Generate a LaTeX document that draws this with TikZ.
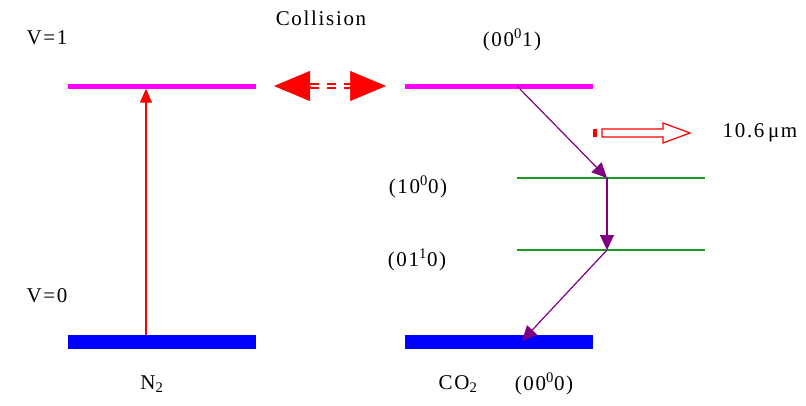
\documentclass[tikz,border=0pt]{standalone}
\usepackage{fontspec}
\setmainfont[LetterSpace=8]{Liberation Serif}
\usetikzlibrary{arrows.meta,positioning,calc}
\definecolor{lvlmag}{RGB}{255,0,255}
\definecolor{lvlblue}{RGB}{0,0,255}
\definecolor{lvlgreen}{RGB}{30,150,30}
\definecolor{decpurple}{RGB}{128,0,128}
\tikzset{
  lvl/.style  = {inner sep=0pt, minimum width=188pt},
  up/.style   = {lvl, fill=lvlmag, minimum height=5pt},
  gnd/.style  = {lvl, fill=lvlblue, minimum height=14pt},
  mid/.style  = {lvl, fill=lvlgreen, minimum height=1.6pt},
  lbl/.style  = {font=\fontsize{21}{24}\selectfont, inner sep=0pt},
  pump/.style = {-{Triangle[length=14pt,width=12pt]}, red, line width=1.1pt},
  dec/.style  = {-{Triangle[length=15pt,width=14pt]}, decpurple, line width=1.2pt},
  collhd/.style = {-{Triangle[length=36pt,width=30pt]}, red, line width=0.5pt},
  collbar/.style= {red, line width=2pt, double=white, double distance=2pt,
                   dash pattern=on 8.5pt off 8.5pt}
}
\begin{document}
\begin{tikzpicture}[x=1pt, y=-1pt]
  \useasboundingbox (0,0) rectangle (806,405);
  % levels
  \node[up]  (n2up)   at (162,86)  {};
  \node[gnd] (n2gnd)  at (162,342) {};
  \node[up]  (co2up)  at (499,86)  {};
  \node[gnd] (co2gnd) at (499,342) {};
  \node[mid] (co2sym) at (611,178) {};
  \node[mid] (co2bnd) at (611,250) {};
  % labels
  \node[lbl] (v1)    at (47,38)   {V=1};
  \node[lbl] (v0)    at (47,296)  {V=0};
  \node[lbl] (coll)  at (321,18)  {Collision};
  \node[lbl] (s001)  at (512,40)  {(00\textsuperscript{0}1)};
  \node[lbl] (s100)  at (418,187) {(10\textsuperscript{0}0)};
  \node[lbl] (s010)  at (417,260) {(01\textsuperscript{1}0)};
  \node[lbl] (s000)  at (544,384) {(00\textsuperscript{0}0)};
  \node[lbl] (n2)    at (152,384) {N\textsubscript{2}};
  \node[lbl] (co2)   at (458,384) {CO\textsubscript{2}};
  \node[lbl] (lam)   at (760,133) {10.6\,μm};
  % pumping of N2
  \coordinate (pumpbot) at (146,335);
  \draw[pump] (pumpbot) -- (pumpbot |- n2up.south);
  % collision transfer
  \coordinate (colL)  at (274,86);
  \coordinate (colLb) at (310,86);
  \coordinate (colR)  at (386,86);
  \coordinate (colRb) at (352,86);
  \draw[collbar] (colLb) -- (colRb);
  \draw[collhd] (colLb) -- (colL);
  \draw[collhd] (colRb) -- (colR);
  % CO2 decay
  \coordinate (k1) at (517,86);
  \coordinate (k2) at (607,178);
  \coordinate (k3) at (607,250);
  \coordinate (k4) at (522,341);
  \draw[dec] (k1) -- (k2);
  \draw[dec] (k2) -- (k3);
  \draw[dec] (k3) -- (k4);
  % emitted photon
  \fill[red] (593,129) rectangle (597,137);
  \draw[red, line width=1.2pt, fill=white]
    (602,129) -- (663,129) -- (663,123) -- (690,133)
    -- (663,143) -- (663,137) -- (602,137) -- cycle;
\end{tikzpicture}
\end{document}
